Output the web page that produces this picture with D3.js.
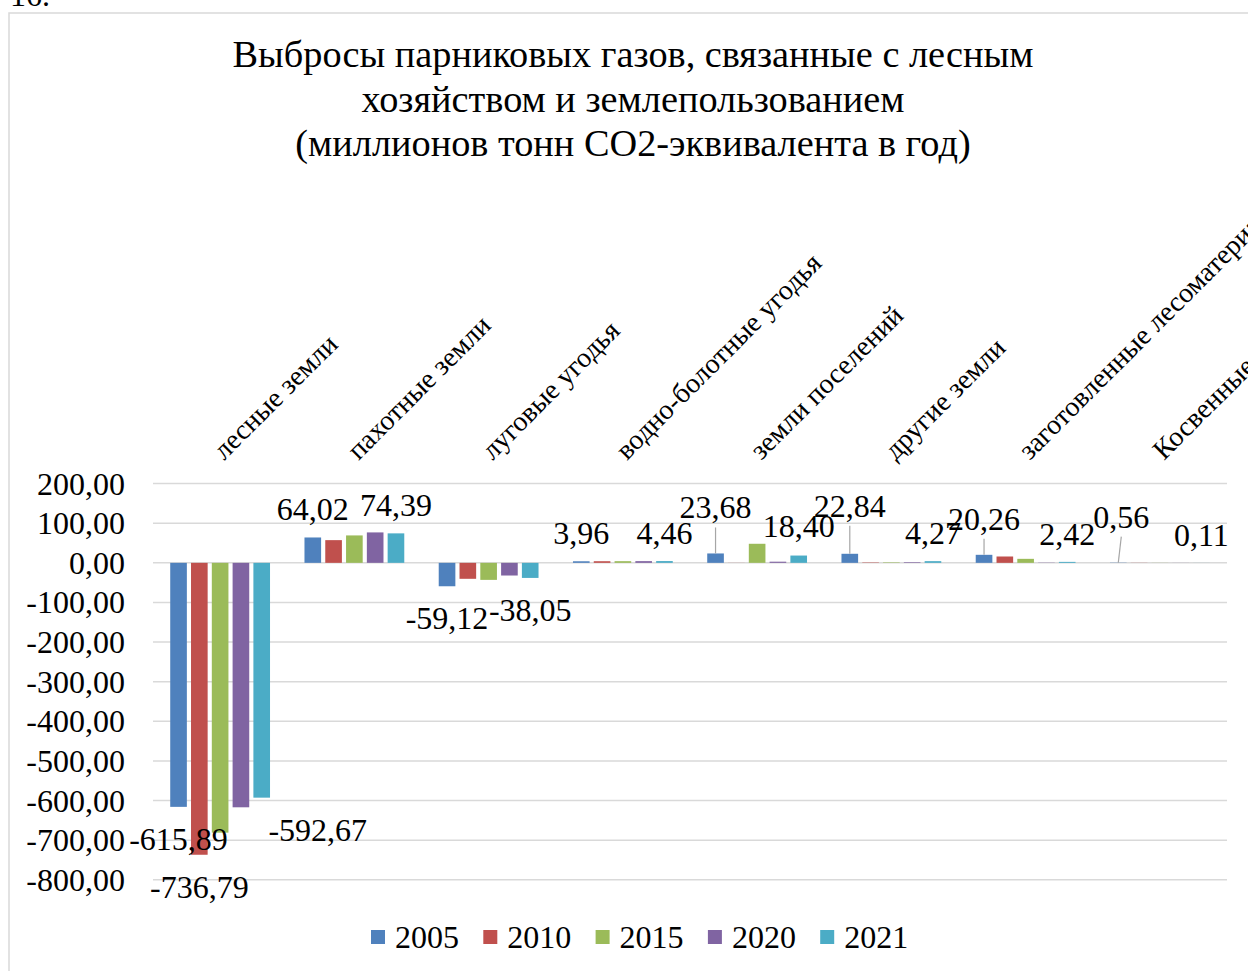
<!DOCTYPE html>
<html lang="ru">
<head>
<meta charset="utf-8">
<script src="https://cdn.jsdelivr.net/npm/d3@7"></script>
<style>
  html, body { margin: 0; padding: 0; background: #fff; }
  svg { display: block; font-family: "Liberation Serif", "Times New Roman", serif; }
</style>
</head>
<body>
<svg id="chart" width="1248" height="971"></svg>
<script>
// Categories of land use (horizontal axis)
const categories = [
  "лесные земли",
  "пахотные земли",
  "луговые угодья",
  "водно-болотные угодья",
  "земли поселений",
  "другие земли",
  "заготовленные лесоматериалы",
  "Косвенные выбросы N2O"
];

// Years shown as series
const seriesNames = ["2005", "2010", "2015", "2020", "2021"];

// Emissions, million tonnes CO2-eq per year
const values2005 = [-615.89, 64.02, -59.12, 3.96, 23.68, 22.84, 20.26, 0.56];
const values2010 = [-736.79, 57.3, -40.3, 4.1, 0.2, 1.0, 16.0, 0.3];
const values2015 = [-681.0, 69.2, -43.0, 4.2, 48.1, 1.2, 10.1, 0.2];
const values2020 = [-617.0, 76.8, -32.0, 4.3, 2.9, 1.6, 0.6, 0.15];
const values2021 = [-592.67, 74.39, -38.05, 4.46, 18.40, 4.27, 2.42, 0.11];

const seriesValues = [values2005, values2010, values2015, values2020, values2021];
const seriesColors = ["#4F81BD", "#C0504D", "#9BBB59", "#8064A2", "#4BACC6"];

// Vertical axis ticks
const yTicks = [200, 100, 0, -100, -200, -300, -400, -500, -600, -700, -800];

// Which bars carry a value label: [category index, series index]
const labelledBars = [
  [0, 0], [0, 1], [0, 4],
  [1, 0], [1, 4],
  [2, 0], [2, 4],
  [3, 0], [3, 4],
  [4, 0], [4, 4],
  [5, 0], [5, 4],
  [6, 0], [6, 4],
  [7, 0], [7, 4]
];

const titleLines = [
  "Выбросы парниковых газов, связанные с лесным",
  "хозяйством и землепользованием",
  "(миллионов тонн CO2-эквивалента в год)"
];

// ---- drawing ----
const svg = d3.select("#chart");
const ru = d3.formatLocale({ decimal: ",", thousands: "\u00a0", grouping: [3], currency: ["", ""], minus: "-" });
const fmt = ru.format(".2f");

const plot = { left: 153, right: 1227 };
const x0 = d3.scaleBand().domain(d3.range(categories.length)).range([plot.left, plot.right]);
const x1 = d3.scaleBand().domain(d3.range(seriesNames.length)).range([-49.9, 49.9]).paddingInner(0.2);
const y = d3.scaleLinear().domain([-800, 200]).range([879.8, 483.6]);

// Page number above the chart frame
svg.append("text").attr("x", 10).attr("y", 6).attr("font-size", 32).attr("fill", "#000").text("16.");

// Chart frame
svg.append("rect")
  .attr("x", 9).attr("y", 13).attr("width", 1300).attr("height", 1000)
  .attr("fill", "#fff").attr("stroke", "#d9d9d9").attr("stroke-width", 1.5);

// Title
svg.append("g").selectAll("text").data(titleLines).join("text")
  .attr("x", 633).attr("y", (d, i) => 67 + i * 44.5)
  .attr("text-anchor", "middle").attr("font-size", 38.3).attr("fill", "#000")
  .text(d => d);

// Gridlines
svg.append("g").selectAll("line").data(yTicks).join("line")
  .attr("x1", plot.left).attr("x2", plot.right)
  .attr("y1", d => y(d)).attr("y2", d => y(d))
  .attr("stroke", "#d9d9d9").attr("stroke-width", 1.5);

// Y tick labels
svg.append("g").selectAll("text").data(yTicks).join("text")
  .attr("x", 125).attr("y", d => y(d) + 11)
  .attr("text-anchor", "end").attr("font-size", 32).attr("fill", "#000")
  .text(d => fmt(d));

// Bars
const barCenter = (c, s) => x0(c) + x0.bandwidth() / 2 + x1(s) + x1.bandwidth() / 2;
const groups = svg.append("g").selectAll("g").data(seriesValues).join("g")
  .attr("fill", (d, i) => seriesColors[i]);
groups.each(function (vals, s) {
  d3.select(this).selectAll("rect").data(vals).join("rect")
    .attr("x", (v, c) => x0(c) + x0.bandwidth() / 2 + x1(s))
    .attr("width", x1.bandwidth())
    .attr("y", v => y(Math.max(0, v)))
    .attr("height", v => Math.abs(y(v) - y(0)));
});

// Category labels, rotated above the plot
svg.append("g").selectAll("text").data(categories).join("text")
  .attr("transform", (d, i) => `translate(${x0(i) + x0.bandwidth() / 2 + 4},461) rotate(-45)`)
  .attr("font-size", 28).attr("fill", "#000")
  .text(d => d);

// Value labels (with nudges and leader lines for moved ones)
const nudges = {
  "0,4": { dx: 56, dy: 0 },
  "4,0": { dx: 0, dy: -18, leader: true },
  "4,4": { dx: 0, dy: -2 },
  "5,0": { dx: 0, dy: -20, leader: true },
  "6,0": { dx: 0, dy: -8, leader: true },
  "7,0": { dx: 3, dy: -18, leader: true }
};
const labels = labelledBars.map(([c, s]) => {
  const v = seriesValues[s][c];
  const n = nudges[c + "," + s] || { dx: 0, dy: 0 };
  const bx = barCenter(c, s);
  const lx = bx + n.dx;
  const ly = (v >= 0 ? y(v) - 17 : y(v) + 43) + n.dy;
  return { v, bx, by: y(v), lx, ly, leader: !!n.leader };
});

svg.append("g").selectAll("line").data(labels.filter(d => d.leader)).join("line")
  .attr("x1", d => d.bx).attr("y1", d => d.by)
  .attr("x2", d => d.lx).attr("y2", d => d.ly + 9)
  .attr("stroke", "#a6a6a6").attr("stroke-width", 1.2);

svg.append("g").selectAll("text").data(labels).join("text")
  .attr("x", d => d.lx).attr("y", d => d.ly)
  .attr("text-anchor", "middle").attr("font-size", 32).attr("fill", "#000")
  .text(d => fmt(d.v));

// Legend
const legend = svg.append("g").selectAll("g").data(seriesNames).join("g")
  .attr("transform", (d, i) => `translate(${371 + i * 112.3},930)`);
legend.append("rect").attr("width", 14).attr("height", 14).attr("fill", (d, i) => seriesColors[i]);
legend.append("text").attr("x", 24).attr("y", 18).attr("font-size", 32).attr("fill", "#000").text(d => d);
</script>
</body>
</html>
